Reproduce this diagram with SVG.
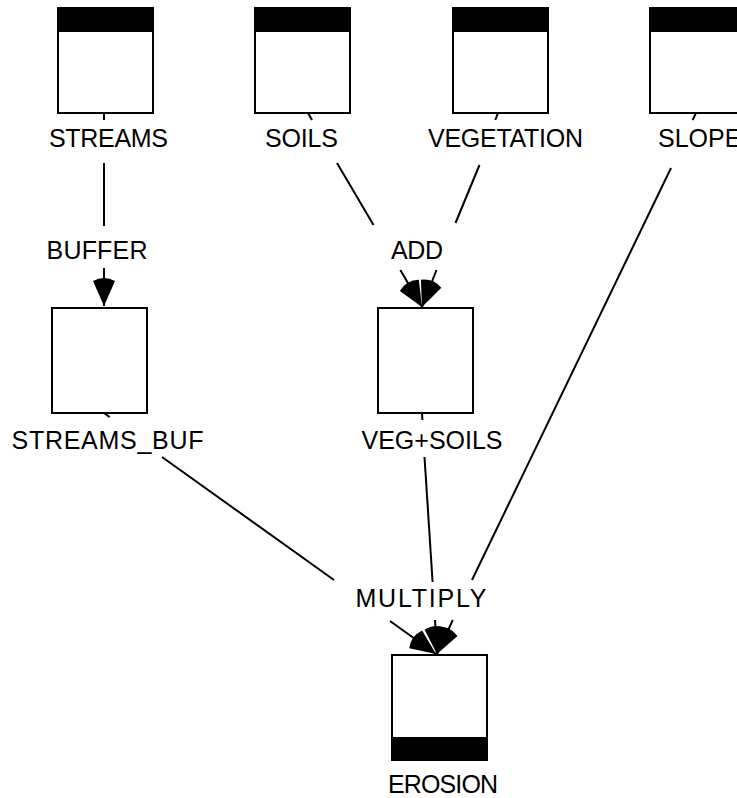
<svg xmlns="http://www.w3.org/2000/svg" width="737" height="798" viewBox="0 0 737 798">
  <style>
    .box { fill: #fff; stroke: #000; stroke-width: 2; }
    .band { fill: #000; }
    .lbl { font-family: "Liberation Sans", Arial, sans-serif; font-size: 25px; fill: #000; text-anchor: middle; }
    .wire { stroke: #000; stroke-width: 2; fill: none; }
    .stalk { stroke: #000; stroke-width: 2; fill: none; marker-end: url(#arrow); }
  </style>
  <defs>
    <marker id="arrow" markerUnits="userSpaceOnUse" viewBox="-8 -12 34 24" refX="25" refY="0" markerWidth="34" markerHeight="24" orient="auto">
      <path d="M25,0 L0,-11 Q-6,0 0,11 Z" fill="#000"/>
    </marker>
  </defs>
  <rect width="737" height="798" fill="#fff"/>

  <!-- input layers -->
  <g id="streams">
    <rect class="box" x="58" y="8" width="95" height="105"/>
    <rect class="band" x="57" y="7" width="97" height="25"/>
    <text class="lbl" x="108.5" y="147" textLength="119">STREAMS</text>
  </g>
  <g id="soils">
    <rect class="box" x="255" y="8" width="95" height="105"/>
    <rect class="band" x="254" y="7" width="97" height="25"/>
    <text class="lbl" x="301.5" y="147" textLength="73">SOILS</text>
  </g>
  <g id="vegetation">
    <rect class="box" x="453" y="8" width="95" height="105"/>
    <rect class="band" x="452" y="7" width="97" height="25"/>
    <text class="lbl" x="505.5" y="147" textLength="155">VEGETATION</text>
  </g>
  <g id="slope">
    <rect class="box" x="650" y="8" width="95" height="105"/>
    <rect class="band" x="649" y="7" width="97" height="25"/>
    <text class="lbl" x="658" y="147" style="text-anchor:start">SLOPE</text>
  </g>

  <!-- operations -->
  <g id="buffer">
    <text class="lbl" x="97" y="259" textLength="101">BUFFER</text>
  </g>
  <g id="add">
    <text class="lbl" x="417" y="259" textLength="52">ADD</text>
  </g>
  <g id="multiply">
    <text class="lbl" x="421" y="607" textLength="131">MULTIPLY</text>
  </g>

  <!-- intermediate and output layers -->
  <g id="streams_buf">
    <rect class="box" x="52" y="308" width="95" height="105"/>
    <text class="lbl" x="107.5" y="449" textLength="192">STREAMS_BUF</text>
  </g>
  <g id="veg_soils">
    <rect class="box" x="378" y="308" width="95" height="105"/>
    <text class="lbl" x="432" y="449" textLength="141">VEG+SOILS</text>
  </g>
  <g id="erosion">
    <rect class="box" x="392" y="655" width="95" height="105"/>
    <rect class="band" x="391" y="737" width="97" height="24"/>
    <text class="lbl" x="443" y="793" textLength="110">EROSION</text>
  </g>

  <!-- connectors: tick, run, arrow stalk -->
  <g id="connectors">
    <!-- STREAMS to STREAMS_BUF -->
    <line class="wire" x1="104" y1="113" x2="104" y2="120"/>
    <line class="wire" x1="104" y1="163" x2="104" y2="226"/>
    <line class="stalk" x1="104" y1="268" x2="104" y2="306"/>
    <!-- SOILS to VEG+SOILS -->
    <line class="wire" x1="308" y1="113" x2="312" y2="120"/>
    <line class="wire" x1="337" y1="163" x2="373.5" y2="225"/>
    <line class="stalk" x1="400.3" y1="270" x2="422" y2="307"/>
    <!-- VEGETATION to VEG+SOILS -->
    <line class="wire" x1="498" y1="113" x2="495.3" y2="120"/>
    <line class="wire" x1="479.5" y1="165" x2="455.5" y2="223"/>
    <line class="stalk" x1="436.5" y1="270" x2="422" y2="307"/>
    <!-- SLOPE to EROSION -->
    <line class="wire" x1="696" y1="113" x2="692.6" y2="120"/>
    <line class="wire" x1="671" y1="168" x2="472" y2="580"/>
    <line class="stalk" x1="452.8" y1="620" x2="437" y2="654"/>
    <!-- STREAMS_BUF to EROSION -->
    <line class="wire" x1="104" y1="413" x2="109.7" y2="417.1"/>
    <line class="wire" x1="162" y1="457" x2="334" y2="580"/>
    <line class="stalk" x1="390" y1="621" x2="436" y2="654"/>
    <!-- VEG+SOILS to EROSION -->
    <line class="wire" x1="422" y1="413" x2="422.4" y2="420"/>
    <line class="wire" x1="424.5" y1="457" x2="432.6" y2="582"/>
    <line class="stalk" x1="435" y1="620" x2="437" y2="654"/>
  </g>
</svg>
